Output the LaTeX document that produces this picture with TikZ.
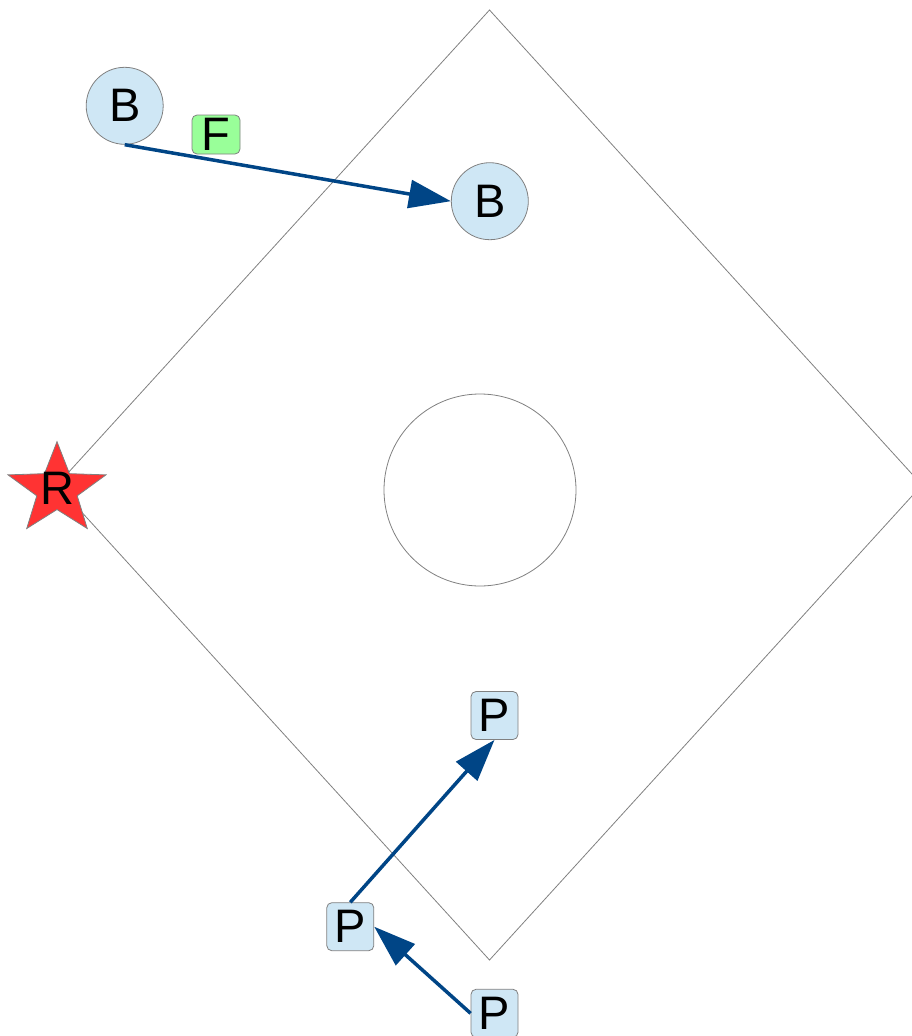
\documentclass[tikz,border=0pt]{standalone}
\usepackage{fontspec}
\setmainfont{Liberation Sans}
\usetikzlibrary{arrows.meta}
\definecolor{nodefill}{RGB}{207,231,245}
\definecolor{nodeline}{RGB}{128,128,128}
\definecolor{arrowblue}{RGB}{0,69,134}
\definecolor{ffill}{RGB}{153,255,153}
\definecolor{starred}{RGB}{255,51,51}
\begin{document}
\begin{tikzpicture}[x=1pt,y=-1pt,
  lbl/.style={font=\fontsize{47}{47}\selectfont, text=black},
  bnode/.style={circle, draw=nodeline, fill=nodefill, line width=0.8pt, minimum size=77pt, inner sep=0pt, lbl},
  pnode/.style={rectangle, rounded corners=5pt, draw=nodeline, fill=nodefill, line width=0.8pt, minimum width=47pt, minimum height=48pt, inner sep=0pt, lbl},
  fnode/.style={rectangle, rounded corners=5pt, draw=nodeline, fill=ffill, line width=0.8pt, minimum width=48pt, minimum height=39pt, inner sep=0pt, lbl},
  starshape/.style={draw=nodeline, fill=starred, line width=0.8pt},
  outline/.style={draw=gray, line width=0.8pt},
  flow/.style={draw=arrowblue, line width=3.5pt, -{Triangle[length=42pt,width=28pt]}}
]
\useasboundingbox (0,0) rectangle (911,1036);
% outline shapes
\draw[outline] (489.5,10) -- (922,485) -- (489.5,960) -- (57,485) -- cycle;
\draw[outline] (480,490) circle[radius=96];
% star
\draw[starshape] plot[samples at={0,1,...,9}, variable=\k]
  ({57+51.5*(1-0.587*mod(\k,2))*cos(90+36*\k)}, {489.7-48*(1-0.587*mod(\k,2))*sin(90+36*\k)}) -- cycle;
% nodes
\node[bnode] (b1) at (124.7,105.8) {B};
\node[bnode] (b2) at (489.8,201.2) {B};
\node[fnode] (f) at (216,134.5) {F};
\node[lbl, inner sep=0pt] (r) at (57.5,488) {R};
\node[pnode] (p1) at (494.5,715.5) {P};
\node[pnode] (p2) at (350.3,926.7) {P};
\node[pnode] (p3) at (494.5,1013.3) {P};
% connectors
\draw[flow] (b1.south) -- (b2.west);
\draw[flow] (p2.north) -- (p1.south);
\draw[flow] (p3.west) -- (p2.east);
\end{tikzpicture}
\end{document}
